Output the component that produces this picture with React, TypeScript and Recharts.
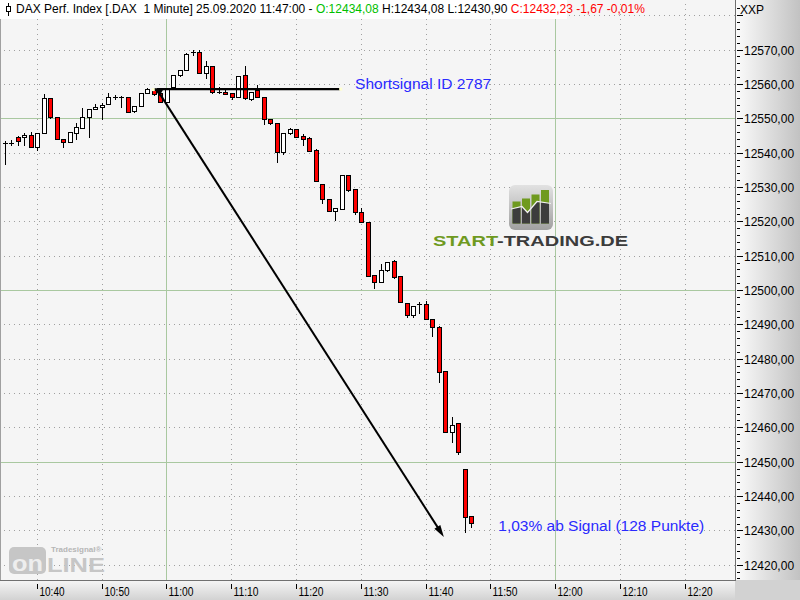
import {
  ComposedChart,
  Bar,
  XAxis,
  YAxis,
  ReferenceLine,
  ReferenceDot,
} from 'recharts';

const FONT = "'Liberation Sans', Arial, sans-serif";

// DAX 1-minute bars, first bar at 10:35 (time axis counts minutes after 10:00)
const firstMinute = 35;

const opens = [
  12542.8, 12542.8, 12544.7, 12544.5, 12545.2, 12541.6, 12545.7, 12555.8, 12550.5, 12543.9,
  12543.2, 12545.7, 12547.1, 12550.3, 12552.6, 12553.2, 12554.1, 12556.3, 12556.1, 12556.1,
  12552.2, 12553.7, 12557.3, 12558.2, 12557.4, 12554.7, 12559.0, 12562.6, 12564.0, 12569.2,
  12569.2, 12563.1, 12565.2, 12557.7, 12557.7, 12557.4, 12556.1, 12562.6, 12555.6, 12558.2,
  12556.1, 12549.7, 12548.6, 12540.3, 12545.7, 12546.8, 12544.9, 12544.2, 12540.9, 12531.0,
  12526.4, 12523.0, 12523.7, 12533.4, 12529.3, 12522.7, 12519.8, 12504.4, 12502.4, 12505.8,
  12508.4, 12504.1, 12496.2, 12492.6, 12495.9, 12495.9, 12491.5, 12489.1, 12476.4, 12458.6,
  12461.2, 12447.8, 12434.08,
];
const highs = [
  12543.4, 12543.7, 12544.9, 12545.7, 12546.1, 12545.7, 12557.1, 12555.8, 12550.5, 12543.9,
  12546.1, 12548.7, 12553.1, 12552.8, 12554.2, 12554.4, 12557.3, 12556.9, 12556.6, 12556.1,
  12553.7, 12557.3, 12558.7, 12558.6, 12558.4, 12558.5, 12562.6, 12564.0, 12569.1, 12569.8,
  12570.0, 12566.7, 12565.2, 12559.2, 12558.9, 12557.4, 12562.3, 12565.2, 12557.7, 12559.7,
  12556.1, 12549.7, 12548.6, 12545.7, 12547.1, 12547.0, 12545.3, 12544.6, 12541.0, 12531.0,
  12526.4, 12523.8, 12533.4, 12533.4, 12529.3, 12523.8, 12519.8, 12504.4, 12507.6, 12508.2,
  12508.8, 12504.1, 12496.2, 12495.4, 12496.6, 12496.8, 12491.5, 12489.5, 12476.4, 12463.0,
  12461.2, 12447.8, 12434.08,
];
const lows = [
  12536.8, 12542.3, 12542.1, 12542.1, 12541.6, 12540.8, 12545.7, 12550.0, 12543.9, 12541.5,
  12543.2, 12544.0, 12547.1, 12544.5, 12552.6, 12549.8, 12554.1, 12555.7, 12553.4, 12551.9,
  12551.8, 12553.7, 12557.3, 12556.9, 12554.7, 12554.7, 12558.8, 12562.4, 12564.0, 12568.4,
  12563.1, 12561.8, 12557.4, 12557.4, 12557.1, 12555.6, 12556.1, 12555.6, 12555.4, 12556.1,
  12548.4, 12548.4, 12537.4, 12539.6, 12545.4, 12544.7, 12542.1, 12540.6, 12531.8, 12525.4,
  12523.0, 12520.3, 12523.7, 12528.7, 12522.1, 12519.9, 12504.2, 12500.5, 12502.2, 12505.5,
  12503.5, 12496.5, 12492.2, 12492.2, 12493.4, 12491.5, 12486.7, 12473.3, 12458.6, 12455.7,
  12452.1, 12429.4, 12430.9,
];
const closes = [
  12542.9, 12542.8, 12543.4, 12545.2, 12541.6, 12545.7, 12555.8, 12550.5, 12543.9, 12543.2,
  12545.9, 12547.4, 12550.3, 12552.6, 12553.2, 12553.9, 12556.3, 12556.3, 12556.1, 12551.9,
  12553.7, 12557.3, 12558.4, 12557.1, 12554.7, 12558.5, 12562.6, 12564.0, 12568.7, 12569.2,
  12563.1, 12565.2, 12557.7, 12557.7, 12557.2, 12556.1, 12562.3, 12555.8, 12557.7, 12556.1,
  12549.8, 12548.6, 12540.3, 12545.7, 12546.8, 12544.7, 12544.1, 12540.6, 12531.8, 12526.4,
  12523.0, 12523.8, 12533.4, 12529.1, 12522.6, 12519.9, 12504.2, 12502.4, 12505.8, 12508.1,
  12503.9, 12496.5, 12492.6, 12495.4, 12495.9, 12491.5, 12489.2, 12476.2, 12458.6, 12460.7,
  12452.8, 12433.9, 12432.23,
];

const timeTicks = [40, 50, 60, 70, 80, 90, 100, 110, 120, 130, 140];
const hourLines = [60, 120];
const priceLabels = [
  12420, 12430, 12440, 12450, 12460, 12470, 12480, 12490,
  12500, 12510, 12520, 12530, 12540, 12550, 12560, 12570,
];
const gridPrices = [...priceLabels, 12580];
const bandPrices = [12450, 12500, 12550];

// drawn signal
const signalTime = 58.5;
const signalPrice = 12558.5;
const signalLineEnd = 86.8;
const targetTime = 102.8;
const targetPrice = 12428.1;
const signalLabelTime = 89.1;
const resultLabelTime = 111.2;
const resultLabelPrice = 12429.7;

const xDomain: [number, number] = [34.31, 147.73];
const yDomain: [number, number] = [12415.55, 12584.45];

const minorTicks: number[] = [];
for (let v = 12416; v <= 12582; v += 2) minorTicks.push(v);

const bars = opens.map((o, i) => ({
  t: firstMinute + i,
  open: o,
  high: highs[i],
  low: lows[i],
  close: closes[i],
  range: [lows[i], highs[i]],
}));

const fmtTime = (m: number) => `${10 + Math.floor(m / 60)}:${String(m % 60).padStart(2, '0')}`;
const fmtNum = (v: number) => v.toFixed(2).replace('.', ',');

const last = bars[bars.length - 1];
const change = last.close - bars[bars.length - 2].close;
const changePct = (change / bars[bars.length - 2].close) * 100;

function Candle(props: any) {
  const { x, y, width, height, payload } = props;
  if (!payload || x == null || y == null) return <g />;
  const { open, close, high, low } = payload;
  const top = Math.min(y, y + height);
  const span = Math.abs(height);
  const py = (v: number) => top + ((high - v) / (high - low)) * span;
  const cx = Math.round(x + width / 2);
  const yo = Math.round(py(open));
  const yc = Math.round(py(close));
  const bTop = Math.min(yo, yc);
  const bBot = Math.max(yo, yc);
  const wick = (
    <line x1={cx + 0.5} y1={Math.round(top)} x2={cx + 0.5} y2={Math.round(top + span) + 1} stroke="#000" />
  );
  if (bBot - bTop < 1) {
    return (
      <g>
        {wick}
        <line x1={cx - 2} y1={bTop + 0.5} x2={cx + 3} y2={bTop + 0.5} stroke="#000" />
      </g>
    );
  }
  return (
    <g>
      {wick}
      <rect
        x={cx - 1.5}
        y={bTop + 0.5}
        width={4}
        height={bBot - bTop}
        fill={close >= open ? '#ffffff' : '#ff0000'}
        stroke="#000"
      />
    </g>
  );
}

function TimeTick({ x, y, payload }: any) {
  const X = Math.round(x) + 0.5;
  return (
    <g>
      <line x1={X} y1={y + 4} x2={X} y2={y + 9} stroke="#000" />
      <text x={X + 2} y={y + 16} fontSize={12} fontFamily={FONT} fill="#000" textLength={25} lengthAdjust="spacingAndGlyphs">
        {fmtTime(payload.value)}
      </text>
    </g>
  );
}

function PriceTick({ x, y, payload }: any) {
  const v = payload.value;
  const Y = Math.round(y) + 0.5;
  const major = v % 10 === 0;
  return (
    <g>
      <line x1={x + 2} y1={Y} x2={x + (major ? 8 : 5)} y2={Y} stroke="#000" />
      {major && priceLabels.includes(v) && (
        <text x={x + 9} y={Y + 4.5} fontSize={12} fontFamily={FONT} fill="#000">
          {fmtNum(v)}
        </text>
      )}
    </g>
  );
}

// 1px grid line snapped to the pixel grid
function GridLine({ x1, y1, x2, y2, stroke, strokeDasharray }: any) {
  if (x1 == null || y1 == null) return <g />;
  const snap = (v: number) => Math.round(v) + 0.5;
  const horizontal = Math.abs(y1 - y2) < 0.5;
  return (
    <line
      x1={horizontal ? x1 : snap(x1)}
      y1={horizontal ? snap(y1) : y1}
      x2={horizontal ? x2 : snap(x2)}
      y2={horizontal ? snap(y2) : y2}
      stroke={stroke}
      strokeDasharray={strokeDasharray}
    />
  );
}

function SignalLine({ x1, y1, x2, y2 }: any) {
  return (
    <g>
      <line x1={x1} y1={y1} x2={x2} y2={y2} stroke="#000" strokeWidth={2.4} />
      <rect x={x2 - 1} y={y2 - 1.5} width={3} height={3} fill="#ffffd0" />
    </g>
  );
}

function SignalArrow({ x1, y1, x2, y2 }: any) {
  const a = Math.atan2(y2 - y1, x2 - x1);
  const ux = Math.cos(a);
  const uy = Math.sin(a);
  const head = (px: number, py: number, dx: number, dy: number, len: number, half: number) => {
    const bx = px - dx * len;
    const by = py - dy * len;
    return `${px},${py} ${bx - dy * half},${by + dx * half} ${bx + dy * half},${by - dx * half}`;
  };
  return (
    <g>
      <line x1={x1} y1={y1} x2={x2 - ux * 6} y2={y2 - uy * 6} stroke="#000" strokeWidth={2} />
      <polygon points={head(x2, y2, ux, uy, 12, 3.5)} fill="#000" />
      <polygon points={head(x1 - 3, y1 - 1, -0.85, -0.5, 9, 4)} fill="#000" />
      <rect x={x1 - 5} y={y1 - 1} width={3} height={3} fill="#ffffd0" />
    </g>
  );
}

function Watermark() {
  return (
    <svg style={{ position: 'absolute', left: 425, top: 180 }} width={215} height={75}>
      <defs>
        <linearGradient id="wmBox" x1="0" y1="0" x2="0" y2="1">
          <stop offset="0" stopColor="#e2e2e2" />
          <stop offset="1" stopColor="#a0a0a0" />
        </linearGradient>
        <clipPath id="wmBars">
          <rect x={87.5} y={21.5} width={8} height={22} />
          <rect x={97} y={18.5} width={8} height={25} />
          <rect x={106.5} y={14.5} width={8} height={29} />
          <rect x={116} y={10} width={8} height={33.5} />
        </clipPath>
      </defs>
      <rect x={84} y={5} width={44} height={45} rx={6} fill="url(#wmBox)" />
      <g clipPath="url(#wmBars)">
        <rect x={86} y={8} width={40} height={40} fill="#6f9a1f" />
        <polygon points="86,29 97,26.5 102.5,32.5 112,21.5 126,23.5 126,44 86,44" fill="#3c3c3c" />
      </g>
      <polyline points="86,29 97,26.5 102.5,32.5 112,21.5 126,23.5" fill="none" stroke="#f2f2f2" strokeWidth={1.2} />
      <text x={8} y={66} fontSize={15.5} fontWeight="bold" fontFamily={FONT} textLength={195} lengthAdjust="spacingAndGlyphs">
        <tspan fill="#6f9a1f">START</tspan>
        <tspan fill="#3c3c3c">-TRADING.DE</tspan>
      </text>
    </svg>
  );
}

function TradesignalLogo() {
  return (
    <svg style={{ position: 'absolute', left: 6, top: 538 }} width={104} height={40}>
      <rect x={3} y={9} width={37} height={27} rx={5} fill="#c6c6c6" />
      <text x={6} y={33} fontSize={22} fontWeight="bold" fontFamily={FONT} fill="#eeeeee" textLength={31} lengthAdjust="spacingAndGlyphs">
        on
      </text>
      <text x={41} y={34} fontSize={21} fontWeight="bold" fontFamily={FONT} fill="#c6c6c6" textLength={58} lengthAdjust="spacingAndGlyphs">
        LINE
      </text>
      <text x={45} y={14} fontSize={8} fontWeight="bold" fontFamily={FONT} fill="#b6b6b6">
        Tradesignal®
      </text>
    </svg>
  );
}

export default function App() {
  return (
    <div
      style={{
        position: 'absolute',
        left: 0,
        top: 0,
        width: 800,
        height: 600,
        overflow: 'hidden',
        background: '#f5f5f5',
        fontFamily: FONT,
      }}
    >
      <div style={{ position: 'absolute', left: 735, top: 0, width: 65, height: 580, background: 'linear-gradient(to right, #fcfcfc, #c2c2c2)' }} />
      <div style={{ position: 'absolute', left: 0, top: 580, width: 735, height: 20, background: 'linear-gradient(to bottom, #f6f6f6, #d2d2d2)' }} />
      <div style={{ position: 'absolute', left: 735, top: 580, width: 65, height: 20, background: '#d2d2d2' }} />

      <div style={{ position: 'absolute', left: 0, top: 0 }}>
        <ComposedChart width={800} height={600} data={bars} margin={{ top: 0, right: 0, bottom: 0, left: 0 }}>
          <XAxis
            dataKey="t"
            type="number"
            domain={xDomain}
            allowDataOverflow
            ticks={timeTicks}
            interval={0}
            height={20}
            axisLine={false}
            tickLine={false}
            tickSize={0}
            tickMargin={0}
            tick={<TimeTick />}
          />
          <YAxis
            orientation="right"
            type="number"
            domain={yDomain}
            allowDataOverflow
            ticks={minorTicks}
            interval={0}
            width={65}
            axisLine={false}
            tickLine={false}
            tickSize={0}
            tickMargin={0}
            tick={<PriceTick />}
          />
          {gridPrices.map((p) => (
            <ReferenceLine
              key={`h${p}`}
              y={p}
              zIndex={-100}
              stroke={bandPrices.includes(p) ? '#a9c8a0' : '#a0a0a0'}
              strokeDasharray={bandPrices.includes(p) ? undefined : '1 4'}
              shape={<GridLine />}
            />
          ))}
          {timeTicks.map((t) => (
            <ReferenceLine
              key={`v${t}`}
              x={t}
              zIndex={-100}
              stroke={hourLines.includes(t) ? '#a9c8a0' : '#a0a0a0'}
              strokeDasharray={hourLines.includes(t) ? undefined : '1 4'}
              shape={<GridLine />}
            />
          ))}
          <Bar dataKey="range" barSize={5} shape={<Candle />} isAnimationActive={false} />
          <ReferenceLine
            segment={[
              { x: signalTime, y: signalPrice },
              { x: signalLineEnd, y: signalPrice },
            ]}
            shape={<SignalLine />}
          />
          <ReferenceLine
            segment={[
              { x: signalTime, y: signalPrice },
              { x: targetTime, y: targetPrice },
            ]}
            shape={<SignalArrow />}
          />
          <ReferenceDot
            x={signalLabelTime}
            y={signalPrice}
            r={0}
            shape={(p: any) => (
              <text x={p.cx} y={p.cy} fontSize={15.5} fontFamily={FONT} fill="#2a2aff">
                Shortsignal ID 2787
              </text>
            )}
          />
          <ReferenceDot
            x={resultLabelTime}
            y={resultLabelPrice}
            r={0}
            shape={(p: any) => (
              <text x={p.cx} y={p.cy} fontSize={15.5} fontFamily={FONT} fill="#2a2aff">
                1,03% ab Signal (128 Punkte)
              </text>
            )}
          />
        </ComposedChart>
      </div>

      <Watermark />
      <TradesignalLogo />

      <div style={{ position: 'absolute', left: 0, top: 0, width: 1, height: 580, background: '#a0a0a0' }} />
      <div style={{ position: 'absolute', left: 735, top: 0, width: 1, height: 581, background: '#707070' }} />
      <div style={{ position: 'absolute', left: 0, top: 580, width: 736, height: 1, background: '#707070' }} />

      <div
        style={{
          position: 'absolute',
          left: 0,
          top: 0,
          width: 567,
          height: 19,
          background: '#ffffff',
          fontSize: 12,
          lineHeight: '19px',
          whiteSpace: 'pre',
        }}
      >
        <svg style={{ position: 'absolute', left: 4, top: 3 }} width={10} height={13}>
          <line x1={4.5} y1={0} x2={4.5} y2={13} stroke="#000" />
          <rect x={2.5} y={3.5} width={4} height={5} fill="#fff" stroke="#000" />
        </svg>
        <span style={{ position: 'absolute', left: 16, top: 0 }}>
          {'DAX Perf. Index [.DAX  1 Minute] 25.09.2020 11:47:00 - '}
          <span style={{ color: '#00c000' }}>{`O:${fmtNum(last.open)}`}</span>
          {` H:${fmtNum(last.high)} L:${fmtNum(last.low)} `}
          <span style={{ color: '#ff0000' }}>
            {`C:${fmtNum(last.close)} ${fmtNum(change)} ${fmtNum(changePct)}%`}
          </span>
        </span>
      </div>
      <div style={{ position: 'absolute', left: 740, top: 3, fontSize: 12, color: '#000' }}>XXP</div>
    </div>
  );
}
